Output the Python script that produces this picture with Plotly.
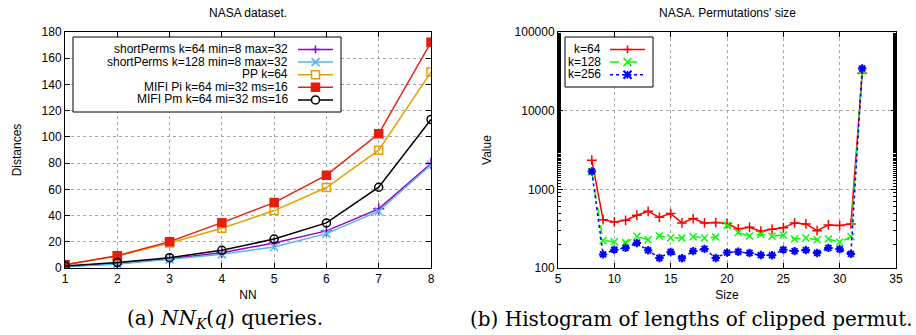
import plotly.graph_objects as go

# ---- Left chart data: NASA dataset, distances vs NN ----
nn = [1, 2, 3, 4, 5, 6, 7, 8]
short_k64 = [1.3, 3.3, 7.1, 11.7, 19.1, 28.3, 45.1, 79.7]
short_k128 = [1.0, 3.1, 6.6, 10.4, 16.0, 26.2, 43.3, 78.7]
pp_k64 = [2.5, 9.2, 19.1, 30.3, 43.8, 61.4, 89.9, 149.4]
mifi_pi = [2.5, 9.4, 20.1, 34.6, 49.9, 70.8, 102.3, 172.1]
mifi_pm = [1.5, 4.1, 7.9, 13.5, 22.1, 34.4, 61.6, 113.3]

# ---- Right chart data: permutation size histogram ----
sizes = list(range(8, 33))
hist_k64 = [2345, 412, 385, 404, 468, 526, 441, 492, 374, 425, 374, 378, 367,
            314, 329, 293, 311, 326, 374, 363, 298, 353, 346, 363, 29800]
hist_k128 = [1667, 223, 216, 210, 253, 229, 255, 243, 241, 250, 241, 248, 349,
             282, 255, 268, 253, 263, 234, 241, 229, 234, 212, 250, 32100]
hist_k256 = [1690, 149, 171, 180, 208, 168, 134, 160, 133, 164, 175, 134, 157,
             161, 155, 146, 145, 171, 164, 169, 155, 180, 173, 151, 34400]

W, H = 916, 335
SANS = "Liberation Sans, Arial, sans-serif"
SERIF = "DejaVu Serif, Liberation Serif, serif"

fig = go.Figure()

left_series = [
    ("shortPerms k=64 min=8 max=32", short_k64, "#9400d3", "cross-thin", "solid"),
    ("shortPerms k=128 min=8 max=32", short_k128, "#56b4e9", "x-thin", "solid"),
    ("PP k=64", pp_k64, "#e69f00", "square-open", "solid"),
    ("MIFI Pi k=64 mi=32 ms=16", mifi_pi, "#e51e10", "square", "solid"),
    ("MIFI Pm k=64 mi=32 ms=16", mifi_pm, "#000000", "circle-open", "solid"),
]
for name, ys, col, sym, dash in left_series:
    fig.add_trace(go.Scatter(
        x=nn, y=ys, name=name, mode="lines+markers", showlegend=False,
        line=dict(color=col, width=1.5),
        marker=dict(symbol=sym, size=8, color=col, line=dict(color=col, width=1.5)),
        xaxis="x", yaxis="y",
    ))

right_series = [
    ("k=64", hist_k64, "#ff0000", "cross-thin", "solid"),
    ("k=128", hist_k128, "#00ff00", "x-thin", "dash"),
    ("k=256", hist_k256, "#0000ff", "asterisk-open", "dot"),
]
for name, ys, col, sym, dash in right_series:
    fig.add_trace(go.Scatter(
        x=sizes, y=ys, name=name, mode="lines+markers", showlegend=False,
        line=dict(color=col, width=1.5, dash=dash),
        marker=dict(symbol=sym, size=7, color=col,
                    line=dict(color=col, width=2 if sym == "asterisk-open" else 1.5)),
        xaxis="x2", yaxis="y2",
    ))

ydom = [1 - 268 / H, 1 - 32 / H]
axis_common = dict(
    automargin=False,
    showline=True, linecolor="black", linewidth=1, mirror="allticks",
    ticks="inside", ticklen=5, tickcolor="black",
    showgrid=True, gridcolor="#a8a8a8", griddash="dot", gridwidth=1,
    zeroline=False, tickfont=dict(family=SANS, size=12, color="black"),
    title_font=dict(family=SANS, size=12, color="black"),
)

fig.update_layout(
    width=W, height=H,
    margin=dict(l=0, r=0, t=0, b=0),
    paper_bgcolor="white", plot_bgcolor="white",
    font=dict(family=SANS, size=12, color="black"),
    showlegend=False,
    xaxis=dict(domain=[65 / W, 431 / W], range=[1, 8], tickvals=nn,
               title=dict(text="NN", standoff=5), anchor="y", **axis_common),
    yaxis=dict(domain=ydom, range=[0, 180], dtick=20,
               title=dict(text="Distances", standoff=17), anchor="x", **axis_common),
    xaxis2=dict(domain=[558 / W, 896 / W], range=[5, 35], dtick=5,
                title=dict(text="Size", standoff=5), anchor="y2", **axis_common),
    yaxis2=dict(domain=ydom, type="log", range=[2, 5],
                tickvals=[100, 1000, 10000, 100000],
                ticktext=["100", "1000", "10000", "100000"],
                minor=dict(ticks="inside", ticklen=3, tickcolor="black", showgrid=False),
                title=dict(text="Value", standoff=20), anchor="x2", **axis_common),
)


# ---- gnuplot-style key: right-aligned text followed by a line sample ----
def px(x):
    return x / W


def py(y):
    return 1 - y / H


def marker_shapes(sym, cx, cy, col, r=4):
    s = []
    ln = dict(color=col, width=1.5)
    if sym in ("cross-thin", "asterisk-open"):
        s.append(dict(type="path", path=f"M{px(cx-r)},{py(cy)} L{px(cx+r)},{py(cy)} "
                      f"M{px(cx)},{py(cy-r)} L{px(cx)},{py(cy+r)}", line=ln))
    if sym in ("x-thin", "asterisk-open"):
        s.append(dict(type="path", path=f"M{px(cx-r)},{py(cy-r)} L{px(cx+r)},{py(cy+r)} "
                      f"M{px(cx-r)},{py(cy+r)} L{px(cx+r)},{py(cy-r)}",
                      line=dict(color=col, width=2 if sym == "asterisk-open" else 1.5)))
    if sym == "square-open":
        s.append(dict(type="rect", x0=px(cx-r), x1=px(cx+r), y0=py(cy+r), y1=py(cy-r),
                      line=ln, fillcolor="white"))
    if sym == "square":
        s.append(dict(type="rect", x0=px(cx-r), x1=px(cx+r), y0=py(cy+r), y1=py(cy-r),
                      line=ln, fillcolor=col))
    if sym == "circle-open":
        s.append(dict(type="circle", x0=px(cx-r), x1=px(cx+r), y0=py(cy+r), y1=py(cy-r),
                      line=ln, fillcolor="white"))
    return s


def add_key(series, box, text_right, line_x0, line_x1, row_y0, row_step):
    x0, y0, x1, y1 = box
    fig.add_shape(type="rect", xref="paper", yref="paper",
                  x0=px(x0), x1=px(x1), y0=py(y1), y1=py(y0),
                  line=dict(color="black", width=1), fillcolor="white", layer="above")
    for i, (name, _ys, col, sym, dash) in enumerate(series):
        yy = row_y0 + i * row_step
        fig.add_annotation(xref="paper", yref="paper", x=px(text_right), y=py(yy),
                           xanchor="right", yanchor="middle", showarrow=False,
                           height=12.5, valign="middle",
                           text=name, font=dict(family=SANS, size=12, color="black"))
        fig.add_shape(type="line", xref="paper", yref="paper",
                      x0=px(line_x0), x1=px(line_x1), y0=py(yy), y1=py(yy),
                      line=dict(color=col, width=1.5, dash=dash), layer="above")
        for sh in marker_shapes(sym, (line_x0 + line_x1) / 2, yy, col):
            fig.add_shape(xref="paper", yref="paper", layer="above", **sh)


add_key(left_series, (73, 37, 341, 112), 290, 298, 333, 49.5, 12.6)
add_key(right_series, (565, 37, 653, 87), 603, 610, 645, 49.5, 12.6)

annotations = [
    dict(text="NASA dataset.", x=248 / W, y=1 - 13 / H, font=dict(family=SANS, size=12)),
    dict(text="NASA. Permutations' size", x=727 / W, y=1 - 13 / H, font=dict(family=SANS, size=12)),
    dict(text="(a) <i>NN</i><sub><i>K</i></sub>(<i>q</i>) queries.", x=225 / W, y=1 - 319 / H,
         font=dict(family=SERIF, size=20)),
    dict(text="(b) Histogram of lengths of clipped permut.", x=691 / W, y=1 - 319 / H,
         font=dict(family=SERIF, size=20)),
]
for a in annotations:
    fig.add_annotation(xref="paper", yref="paper", showarrow=False,
                       xanchor="center", yanchor="middle", **a)

fig.write_html("out.html", config={"displayModeBar": False},
               post_script="document.body.style.margin='0px';")
